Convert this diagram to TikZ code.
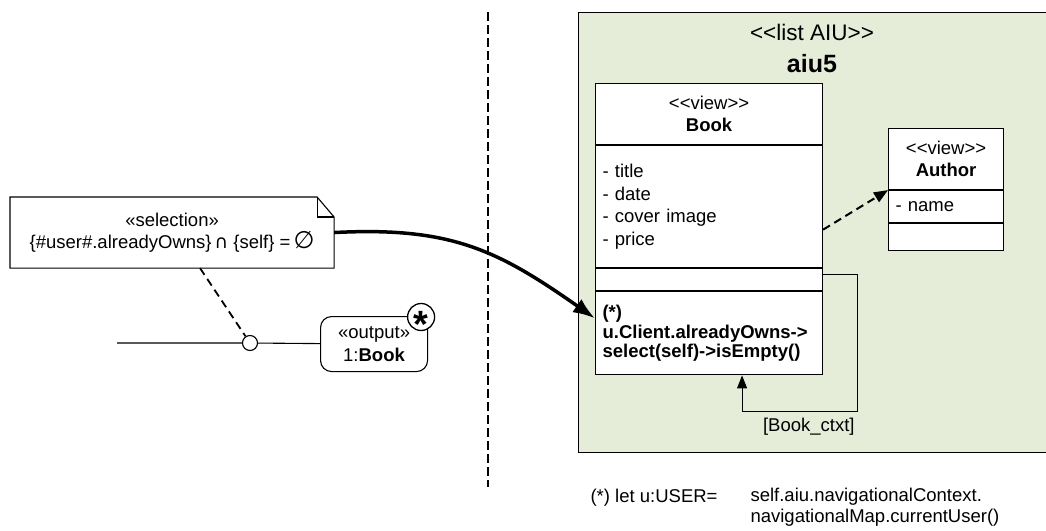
\documentclass[tikz,border=0pt]{standalone}
\usepackage{fontspec}
\newfontfamily\diafont{Liberation Sans}
\newfontfamily\symfont{DejaVu Sans}
\usetikzlibrary{arrows.meta, positioning, calc}
\definecolor{aiugreen}{RGB}{229,237,217}

\begin{document}
\begin{tikzpicture}[x=1pt, y=-1pt, line width=1.1pt, font=\diafont\fontsize{18.5}{22.5}\selectfont,
		classbox/.style={draw, rectangle, fill=white, anchor=north west, inner sep=0pt},
		dashline/.style={line width=2pt, dash pattern=on 8pt off 5pt}]
		\useasboundingbox (0, 0) rectangle (1046, 530);
		\clip (0, 0) rectangle (1046, 530);
		\node[draw, fill=aiugreen, rectangle, minimum width=500pt, minimum height=440pt, anchor=north west] (aiu5) at (578, 12) {};
		\node[anchor=base, font=\diafont\fontsize{22.5}{24}\selectfont] (aiu5_stereo) at (812, 40) {<<list AIU>>};
		\node[anchor=base, font=\diafont\fontsize{25}{25}\selectfont\bfseries] (aiu5_name) at (812, 72) {aiu5};
		\node[classbox, minimum width=227pt, minimum height=61pt, align=center] (book_name) at (595, 83) {<<view>>\\\textbf{Book}};
		\node[classbox, minimum height=122pt, text width=213pt, inner xsep=7pt, align=left] (book_attr) at (book_name.south west) {- title\\- date\\- cover image\\- price};
		\node[classbox, minimum width=227pt, minimum height=22pt] (book_ops) at (book_attr.south west) {};
		\node[classbox, minimum height=83pt, text width=213pt, inner xsep=7pt, align=left, font=\diafont\fontsize{18.5}{19.5}\selectfont\bfseries] (book_meth) at (book_ops.south west) {(*)\\u.Client.alreadyOwns->\\select(self)->isEmpty()};
		\node[classbox, minimum width=115pt, minimum height=61pt, align=center] (author_name) at (888, 128) {<<view>>\\\textbf{Author}};
		\node[classbox, minimum height=32pt, text width=101pt, inner xsep=7pt, align=left] (author_attr) at (author_name.south west) {- name};
		\node[classbox, minimum width=115pt, minimum height=27pt] (author_ops) at (author_attr.south west) {};
		\draw[dashline, -{Triangle[length=14pt, width=11pt]}] ($(book_attr.east) + (0, 23)$) -- (author_attr.north west);
		\coordinate (loop_corner) at ($(book_ops.east) + (34, 132)$);
		\draw[-{Triangle[length=13pt, width=10pt]}] ($(book_ops.east) + (0, -5)$) -| (loop_corner) -| ($(book_meth.south) + (33, 0)$);
		\node[anchor=north east, inner sep=0pt] (ctxt_label) at ($(loop_corner) + (-2, 6)$) {[Book\_ctxt]};
		\node[rectangle, minimum width=323pt, minimum height=70pt, anchor=north west, align=center] (note) at (10, 197) {«selection»\\\{\#user\#.alreadyOwns\}\,{\symfont ∩} \{self\} =\,{\symfont\fontsize{24}{22.5}\selectfont ∅}};
		\draw (note.north west) -- ($(note.north east) + (-17, 0)$) -- ($(note.north east) + (0, 20)$) -- (note.south east) -- (note.south west) -- cycle;
		\draw ($(note.north east) + (-17, 0)$) |- ($(note.north east) + (0, 20)$);
		\draw[line width=3.5pt, -{Latex[length=22pt, width=16pt]}] (note.east) to[out=3, in=145, looseness=1.1] ($(book_meth.west) + (0, -15)$);
		\node[draw, rectangle, rounded corners=11pt, minimum width=107pt, minimum height=55pt, anchor=north west, align=center, inner sep=0pt] (output) at (320, 316) {«output»\\1:\textbf{Book}};
		\node[draw, circle, fill=white, minimum size=27pt, inner sep=0pt, line width=1.3pt, font=\diafont\fontsize{38}{38}\selectfont\bfseries] (output_mult) at ($(output.north east) + (-7, 1)$) {\raisebox{-0.55em}[0pt][0pt]{*}};
		\node[draw, circle, fill=white, minimum size=15pt, inner sep=0pt] (pin) at (250, 343) {};
		\coordinate (flow_start) at (117, 343);
		\draw (flow_start) -- (pin) -- (output);
		\draw[dashline, line width=1.8pt] ($(note.south) + (28, 0)$) -- (pin);
		\coordinate (sep_top) at (488, 12);
		\coordinate (sep_bottom) at (488, 487);
		\draw[line width=2pt, dash pattern=on 9pt off 4pt] (sep_top) -- (sep_bottom);
		\node[anchor=base west, inner sep=0pt] (let_label) at (590, 502) {(*) let u:USER=};
		\node[anchor=north west, inner sep=0pt, align=left, font=\diafont\fontsize{18.5}{20.5}\selectfont] (let_def) at (750, 488) {self.aiu.navigationalContext.\\navigationalMap.currentUser()};
	\end{tikzpicture}
\end{document}
